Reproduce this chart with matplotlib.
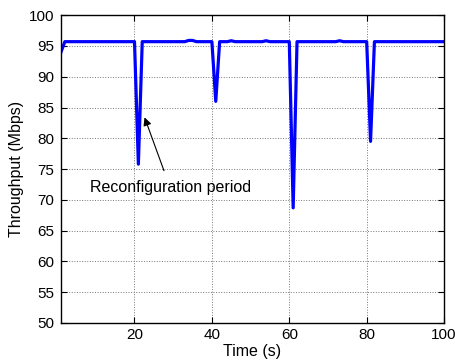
import numpy as np
import matplotlib.pyplot as plt

plt.rcParams['font.family'] = ['Liberation Sans', 'DejaVu Sans']

# throughput sampled once per second
time_s = np.arange(1, 101)
throughput = np.full(100, 95.7)
throughput[0] = 94.0
# reconfiguration dips (time -> Mbps)
dips = {21: 75.8, 41: 86.0, 61: 68.7, 81: 79.5}
bumps = {34: 95.9, 35: 95.9, 45: 95.85, 54: 95.85, 73: 95.85}

for t, v in bumps.items():
    throughput[t - 1] = v
for t, v in dips.items():
    throughput[t - 1] = v

xticks = [20, 40, 60, 80, 100]
yticks = np.arange(50, 101, 5)

fig = plt.figure(figsize=(4.55, 3.62), dpi=100)
ax = fig.add_axes([0.134, 0.108, 0.842, 0.85])
ax.plot(time_s, throughput, color='#0000ff', linewidth=2.3)

ax.annotate('Reconfiguration period', xy=(22.6, 83.4), xytext=(29.2, 72.0),
            ha='center', va='center', fontsize=11.5,
            arrowprops=dict(arrowstyle='-|>', color='black', lw=0.8,
                            mutation_scale=12, shrinkA=5, shrinkB=0))

ax.set_xlim(1, 100)
ax.set_ylim(50, 100)
ax.set_xticks(xticks)
ax.set_yticks(yticks)
ax.tick_params(direction='in', top=True, right=True, labelsize=11, length=4)
ax.tick_params(axis='y', pad=5)
ax.tick_params(axis='x', pad=4)
ax.grid(True, linestyle=':', color='#777777', linewidth=0.7)
for s in ax.spines.values():
    s.set_linewidth(1.0)
ax.set_xlabel('Time (s)', fontsize=11.5, labelpad=1)
ax.set_ylabel('Throughput (Mbps)', fontsize=11.5, labelpad=3)

fig.savefig('out.png', dpi=100)
